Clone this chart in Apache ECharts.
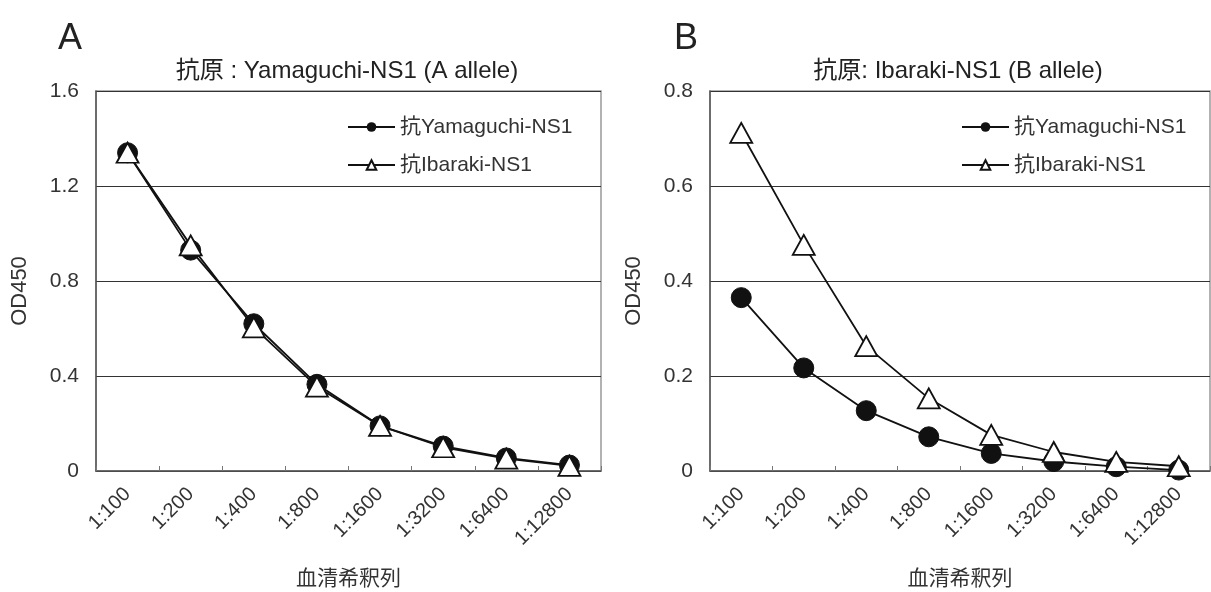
<!DOCTYPE html>
<html>
<head>
<meta charset="utf-8">
<script src="https://cdn.jsdelivr.net/npm/echarts@6/dist/echarts.min.js"></script>
<style>
html,body{margin:0;padding:0;background:#fff;}
#main{width:1211px;height:592px;}
</style>
</head>
<body>
<div id="main"></div>
<script>
const categories = ['1:100','1:200','1:400','1:800','1:1600','1:3200','1:6400','1:12800'];
const seriesNames = ['抗Yamaguchi-NS1','抗Ibaraki-NS1'];
// Panel A: antigen Yamaguchi-NS1
const yamaA = [1.34, 0.93, 0.62, 0.365, 0.19, 0.105, 0.055, 0.025];
const ibaA  = [1.34, 0.95, 0.605, 0.355, 0.19, 0.10, 0.052, 0.022];
// Panel B: antigen Ibaraki-NS1
const yamaB = [0.365, 0.217, 0.127, 0.072, 0.037, 0.02, 0.009, 0.002];
const ibaB  = [0.712, 0.476, 0.263, 0.153, 0.076, 0.04, 0.019, 0.01];
const titleA = '抗原 : Yamaguchi-NS1 (A allele)';
const titleB = '抗原: Ibaraki-NS1 (B allele)';
const xName = '血清希釈列';
const yName = 'OD450';

const FONT = "'Liberation Sans','Noto Sans CJK JP',Arial,sans-serif";
const chart = echarts.init(document.getElementById('main'), null, {renderer:'canvas'});

function xAxis(gi){
  return {
    type:'category', gridIndex:gi, data:categories, boundaryGap:true,
    axisLine:{lineStyle:{color:'#555', width:1.5}},
    axisTick:{show:true, inside:true, length:5, lineStyle:{color:'#777'}},
    axisLabel:{rotate:45, fontSize:20, color:'#333', fontFamily:FONT, margin:20, interval:0},
    name:xName, nameLocation:'middle', nameGap:98,
    nameTextStyle:{fontSize:21, color:'#333', fontFamily:FONT}
  };
}
function yAxis(gi, max, interval){
  return {
    type:'value', gridIndex:gi, min:0, max:max, interval:interval,
    axisLine:{show:true, lineStyle:{color:'#555', width:1.5}},
    axisTick:{show:false},
    axisLabel:{fontSize:21, color:'#333', fontFamily:FONT, margin:17},
    splitLine:{show:true, lineStyle:{color:'#333', width:1}},
    name:yName, nameLocation:'middle', nameGap:65, nameRotate:90,
    nameTextStyle:{fontSize:22, color:'#333', fontFamily:FONT, padding:[0,20,0,0]}
  };
}
function circ(gi, data){
  return {name:seriesNames[0], type:'line', xAxisIndex:gi, yAxisIndex:gi, data:data,
    symbol:'circle', symbolSize:20, smooth:false,
    lineStyle:{color:'#111', width:1.8}, itemStyle:{color:'#111', borderColor:'#111'}, z:2};
}
function tri(gi, data){
  return {name:seriesNames[1], type:'line', xAxisIndex:gi, yAxisIndex:gi, data:data,
    symbol:'triangle', symbolSize:[22,20], smooth:false,
    lineStyle:{color:'#111', width:1.8}, itemStyle:{color:'#fff', borderColor:'#111', borderWidth:1.8}, z:3};
}
const legendBase = {
  orient:'vertical', itemWidth:47, itemHeight:12, itemGap:16,
  textStyle:{fontSize:21, color:'#333', fontFamily:FONT, lineHeight:22},
  data:seriesNames
};
const option = {
  backgroundColor:'#fff',
  animation:false,
  title:[
    {text:'A', left:53, top:16, textStyle:{fontSize:36, fontWeight:'normal', color:'#222', fontFamily:FONT}},
    {text:'B', left:669, top:16, textStyle:{fontSize:36, fontWeight:'normal', color:'#222', fontFamily:FONT}},
    {text:titleA, left:342, textAlign:'center', top:54, textStyle:{fontSize:24, fontWeight:'normal', color:'#222', fontFamily:FONT}},
    {text:titleB, left:953, textAlign:'center', top:54, textStyle:{fontSize:24, fontWeight:'normal', color:'#222', fontFamily:FONT}}
  ],
  grid:[
    {left:96, top:91, width:505, height:380, outerBoundsMode:'none', containLabel:false, show:true, borderColor:'#999', borderWidth:1.5, backgroundColor:'#fff'},
    {left:710, top:91, width:500, height:380, outerBoundsMode:'none', containLabel:false, show:true, borderColor:'#999', borderWidth:1.5, backgroundColor:'#fff'}
  ],
  legend:[
    Object.assign({}, legendBase, {left:342, top:111}),
    Object.assign({}, legendBase, {left:956, top:111})
  ],
  xAxis:[xAxis(0), xAxis(1)],
  yAxis:[yAxis(0, 1.6, 0.4), yAxis(1, 0.8, 0.2)],
  series:[circ(0, yamaA), tri(0, ibaA), circ(1, yamaB), tri(1, ibaB)]
};
chart.setOption(option);
</script>
</body>
</html>
